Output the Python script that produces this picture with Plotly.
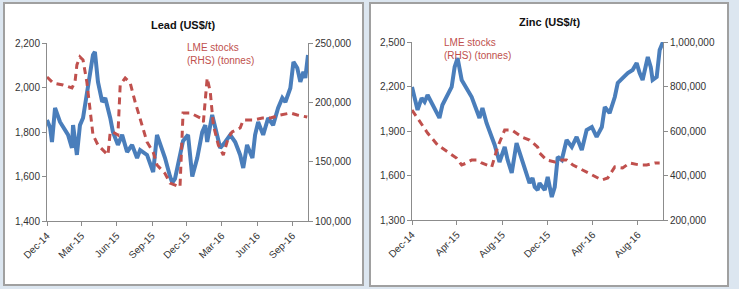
import plotly.graph_objects as go

# ---------------- Lead ----------------
lead_price_dates = ["2014-12-01","2014-12-09","2014-12-14","2014-12-22","2015-01-04","2015-01-25","2015-02-04","2015-02-07",
    "2015-02-17","2015-02-25","2015-03-05","2015-03-15","2015-03-23","2015-03-31","2015-04-05","2015-04-13","2015-04-24",
    "2015-05-02","2015-05-15","2015-05-22","2015-06-04","2015-06-15","2015-06-28","2015-07-11","2015-07-24","2015-08-01",
    "2015-08-19","2015-09-04","2015-09-14","2015-09-27","2015-10-05","2015-10-18","2015-10-24","2015-10-31","2015-11-13",
    "2015-11-21","2015-12-04","2015-12-15","2015-12-28","2016-01-10","2016-01-18","2016-01-23","2016-02-05","2016-02-13",
    "2016-02-26","2016-03-10","2016-03-23","2016-04-05","2016-04-18","2016-04-26","2016-05-06","2016-05-20","2016-05-27",
    "2016-06-04","2016-06-17","2016-06-30","2016-07-13","2016-07-26","2016-08-06","2016-08-14","2016-08-27","2016-09-04",
    "2016-09-14","2016-09-22","2016-09-30","2016-10-05","2016-10-12"]
lead_price = [1854,1820,1755,1908,1845,1787,1728,1831,
    1697,1831,1863,1980,2070,2146,2160,2025,1935,
    1953,1863,1800,1742,1787,1710,1742,1683,1719,
    1697,1620,1787,1728,1683,1600,1572,1590,1700,
    1760,1787,1600,1683,1800,1831,1755,1877,1818,
    1728,1755,1787,1755,1697,1638,1742,1683,1787,
    1845,1787,1863,1831,1908,1953,1935,1998,2115,
    2088,2025,2070,2043,2146]

lead_stock_dates = ["2014-12-01","2014-12-17","2015-01-12","2015-02-04","2015-02-12","2015-02-17","2015-02-25","2015-03-05",
    "2015-03-15","2015-03-23","2015-03-31","2015-04-13","2015-05-02","2015-05-09","2015-05-15","2015-05-22","2015-06-04",
    "2015-06-10","2015-06-23","2015-07-06","2015-07-19","2015-08-01","2015-08-19","2015-09-04","2015-09-14","2015-10-05",
    "2015-10-18","2015-11-13","2015-11-19","2015-11-21","2015-12-10","2016-01-05","2016-01-13","2016-01-18","2016-01-23",
    "2016-01-31","2016-02-08","2016-02-21","2016-03-05","2016-03-18","2016-03-28","2016-04-18","2016-04-26","2016-05-22",
    "2016-06-15","2016-07-06","2016-08-01","2016-08-27","2016-09-14","2016-10-10"]
lead_stocks = [221350,216300,214600,212100,217100,231500,238200,235700,
    217100,191900,172500,164000,158100,155600,175000,175000,172500,
    214600,220500,216300,200300,186800,166600,158100,147200,140000,
    132000,128700,172500,191000,191000,186800,183400,206200,220500,
    208700,180900,164000,155600,170000,175000,178400,185100,185100,
    186800,186800,189300,191000,189300,187600]

lead_tickvals = ["2014-12-01","2015-03-01","2015-06-01","2015-09-01","2015-12-01","2016-03-01","2016-06-01","2016-09-01"]
lead_ticktext = ["Dec-14","Mar-15","Jun-15","Sep-15","Dec-15","Mar-16","Jun-16","Sep-16"]
lead_left_ticks = [1400, 1600, 1800, 2000, 2200]
lead_right_ticks = [100000, 150000, 200000, 250000]

# ---------------- Zinc ----------------
zinc_price_dates = ["2014-12-01","2014-12-08","2014-12-16","2014-12-27","2015-01-04","2015-01-12","2015-01-23","2015-02-05",
    "2015-02-13","2015-02-21","2015-03-04","2015-03-18","2015-03-26","2015-04-03","2015-04-14","2015-04-27","2015-05-11",
    "2015-05-24","2015-06-01","2015-06-09","2015-06-20","2015-07-04","2015-07-12","2015-07-25","2015-08-08","2015-08-16",
    "2015-08-27","2015-09-09","2015-09-17","2015-10-01","2015-10-14","2015-10-22","2015-10-28","2015-11-05","2015-11-10",
    "2015-11-24","2015-12-02","2015-12-13","2015-12-21","2015-12-29","2016-01-09","2016-01-22","2016-02-05","2016-02-18",
    "2016-03-03","2016-03-16","2016-03-30","2016-04-12","2016-04-26","2016-05-04","2016-05-17","2016-05-31","2016-06-08",
    "2016-06-21","2016-07-05","2016-07-18","2016-07-29","2016-08-06","2016-08-14","2016-08-28","2016-09-05","2016-09-10",
    "2016-09-21","2016-09-29","2016-10-08"]
zinc_price = [2197,2129,2042,2122,2096,2143,2089,2021,
    1988,2075,2129,2197,2331,2392,2244,2190,2129,
    2042,1988,2055,1954,1860,1806,1691,1792,1704,
    1617,1819,1752,1637,1549,1583,1522,1502,1549,
    1502,1590,1455,1522,1725,1704,1839,1792,1860,
    1772,1907,1927,1860,1927,2062,2021,2129,2224,
    2257,2291,2311,2358,2291,2244,2399,2331,2244,
    2264,2446,2500]

zinc_stock_dates = ["2014-12-01","2014-12-16","2015-01-12","2015-02-08","2015-03-07","2015-03-31","2015-04-14","2015-04-27",
    "2015-05-11","2015-05-24","2015-06-07","2015-07-04","2015-07-20","2015-08-08","2015-08-27","2015-09-23","2015-10-14",
    "2015-10-20","2015-11-05","2015-11-10","2015-11-29","2015-12-21","2016-01-09","2016-01-22","2016-02-08","2016-03-05",
    "2016-04-01","2016-04-26","2016-05-12","2016-05-31","2016-06-21","2016-07-10","2016-08-06","2016-08-25","2016-09-16",
    "2016-09-29"]
zinc_stocks = [694400,658500,591000,537100,505700,478700,447200,456200,
    469700,469700,456200,438300,528100,604500,604500,573100,559600,
    550600,528100,501200,469700,460700,469700,469700,447200,424800,
    402300,379800,388800,438300,433800,456200,447200,447200,456200,
    456200]

zinc_tickvals = ["2014-12-01","2015-04-01","2015-08-01","2015-12-01","2016-04-01","2016-08-01"]
zinc_ticktext = ["Dec-14","Apr-15","Aug-15","Dec-15","Apr-16","Aug-16"]
zinc_left_ticks = [1300, 1600, 1900, 2200, 2500]
zinc_right_ticks = [200000, 400000, 600000, 800000, 1000000]

W, H = 739, 289
BLUE = "#4a7ebb"
RED = "#c0504d"
AXC = "#8c8c8c"
FONT = "Liberation Sans, Arial, sans-serif"

fig = go.Figure()
fig.add_trace(go.Scatter(x=lead_price_dates, y=lead_price, xaxis="x", yaxis="y", mode="lines",
                         line=dict(color=BLUE, width=4), showlegend=False, hoverinfo="skip"))
fig.add_trace(go.Scatter(x=lead_stock_dates, y=lead_stocks, xaxis="x", yaxis="y2", mode="lines",
                         line=dict(color=RED, width=3, dash="7px,5px"), showlegend=False, hoverinfo="skip"))
fig.add_trace(go.Scatter(x=zinc_price_dates, y=zinc_price, xaxis="x2", yaxis="y3", mode="lines",
                         line=dict(color=BLUE, width=4), showlegend=False, hoverinfo="skip"))
fig.add_trace(go.Scatter(x=zinc_stock_dates, y=zinc_stocks, xaxis="x2", yaxis="y4", mode="lines",
                         line=dict(color=RED, width=3, dash="7px,5px"), showlegend=False, hoverinfo="skip"))

def px_x(p):
    return p / W

def px_y(p):
    return 1 - p / H

tickfont = dict(family=FONT, size=10, color="#333333")
common_y = dict(showline=True, linecolor=AXC, linewidth=1, ticks="outside", ticklen=4, tickcolor=AXC,
                showgrid=False, zeroline=False, tickfont=tickfont, tickformat=",", automargin=False,
                tickmode="array")
common_x = dict(type="date", showline=True, linecolor=AXC, linewidth=1, ticks="outside", ticklen=4,
                tickcolor=AXC, showgrid=False, zeroline=False, tickangle=-45, automargin=False,
                tickfont=dict(family=FONT, size=10, color="#333333"))

fig.update_layout(
    width=W, height=H, margin=dict(l=0, r=0, t=0, b=0, autoexpand=False),
    paper_bgcolor="#dce6f0", plot_bgcolor="rgba(0,0,0,0)",
    xaxis=dict(domain=[px_x(47), px_x(308)], anchor="y", range=["2014-12-01", "2016-10-12"],
               tickvals=lead_tickvals, ticktext=lead_ticktext, **common_x),
    yaxis=dict(domain=[px_y(221), px_y(43)], anchor="x", range=[1400, 2200], tickvals=lead_left_ticks, **common_y),
    yaxis2=dict(overlaying="y", side="right", anchor="x", range=[100000, 250000], tickvals=lead_right_ticks, **common_y),
    xaxis2=dict(domain=[px_x(412), px_x(663)], anchor="y3", range=["2014-12-01", "2016-10-08"],
                tickvals=zinc_tickvals, ticktext=zinc_ticktext, **common_x),
    yaxis3=dict(domain=[px_y(220), px_y(42)], anchor="x2", range=[1300, 2500], tickvals=zinc_left_ticks, **common_y),
    yaxis4=dict(overlaying="y3", side="right", anchor="x2", range=[200000, 1000000], tickvals=zinc_right_ticks, **common_y),
    shapes=[
        dict(type="rect", xref="paper", yref="paper", x0=px_x(4), x1=px_x(363), y0=px_y(285), y1=px_y(3),
             fillcolor="white", line=dict(color="#a0a0a0", width=2), layer="below"),
        dict(type="rect", xref="paper", yref="paper", x0=px_x(370), x1=px_x(728), y0=px_y(286), y1=px_y(3),
             fillcolor="white", line=dict(color="#a0a0a0", width=2), layer="below"),
    ],
    annotations=[
        dict(text="<b>Lead (US$/t)</b>", xref="paper", yref="paper", x=px_x(183), y=px_y(25),
             showarrow=False, font=dict(family=FONT, size=11, color="#111111"), xanchor="center", yanchor="middle"),
        dict(text="<b>Zinc (US$/t)</b>", xref="paper", yref="paper", x=px_x(549), y=px_y(22),
             showarrow=False, font=dict(family=FONT, size=11, color="#111111"), xanchor="center", yanchor="middle"),
        dict(text="LME stocks<br>(RHS) (tonnes)", xref="paper", yref="paper", x=px_x(185), y=px_y(40),
             showarrow=False, align="left", font=dict(family=FONT, size=10, color=RED),
             xanchor="left", yanchor="top"),
        dict(text="LME stocks<br>(RHS) (tonnes)", xref="paper", yref="paper", x=px_x(442), y=px_y(35),
             showarrow=False, align="left", font=dict(family=FONT, size=10, color=RED),
             xanchor="left", yanchor="top"),
    ],
)

fig.write_html("out.html", config={"displayModeBar": False, "staticPlot": True},
               post_script="document.body.style.margin='0';document.body.style.padding='0';")
